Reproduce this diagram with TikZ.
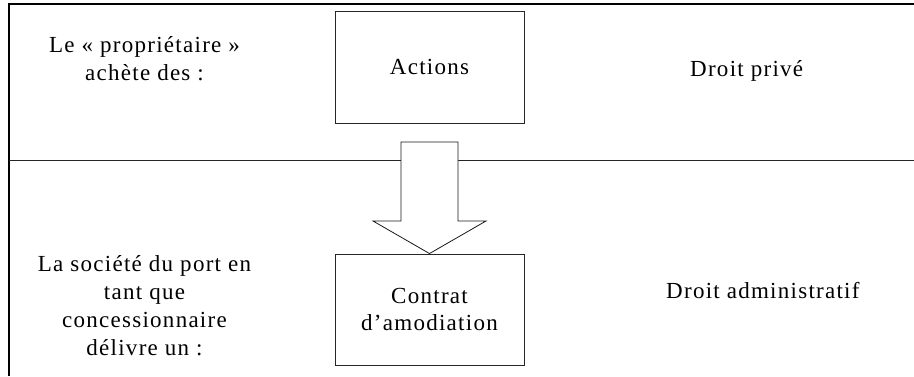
\documentclass[tikz,border=0pt]{standalone}
\usepackage{fontspec}
\setmainfont[LetterSpace=5.5]{Liberation Serif}
\begin{document}
\begin{tikzpicture}[x=1pt,y=-1pt,
  txt/.style={font=\fontsize{23}{27.8}\selectfont, inner sep=0pt},
  blk/.style={txt, align=center, anchor=base},
  boxnode/.style={draw=black!85, line width=0.9pt, txt, align=center,
    minimum width=189pt, inner sep=0pt},
  frame/.style={line width=1.8pt, black},
  rule/.style={line width=0.9pt, black!85},
  bigarrow/.style={draw=black!90, line width=0.8pt, fill=white, line join=miter}]
\useasboundingbox (0,0) rectangle (914,376);
% frame
\coordinate (tl) at (9,4);
\coordinate (tr) at (914,4);
\coordinate (bl) at (9,376);
\coordinate (ml) at (9,160.5);
\coordinate (mr) at (914,160.5);
\draw[frame] (tr) -- (tl) -- (bl);
\draw[rule] (ml) -- (mr);
% boxes
\node[boxnode, minimum height=112pt] (actions) at (429.5,67) {Actions};
\node[boxnode, minimum height=111pt] (contrat) at (429.5,309.5) {Contrat\\d’amodiation};
% block arrow
\coordinate (s1) at (401,142);
\coordinate (s2) at (458,142);
\coordinate (s3) at (458,221);
\coordinate (s4) at (486,221);
\coordinate (s5) at (373,221);
\coordinate (s6) at (401,221);
\draw[bigarrow] (s1) -- (s2) -- (s3) -- (s4) -- (contrat.north) -- (s5) -- (s6) -- cycle;
% texts (base anchor = baseline of last line)
\node[blk] (proprio) at (144.5,80) {Le «~propriétaire~»\\achète des :};
\node[blk] (societe) at (144.5,355) {La société du port en\\tant que\\concessionnaire\\délivre un :};
\node[txt, anchor=base west] (prive) at (690,76) {Droit privé};
\node[txt, anchor=base west] (admin) at (666,298) {Droit administratif};
\end{tikzpicture}
\end{document}
